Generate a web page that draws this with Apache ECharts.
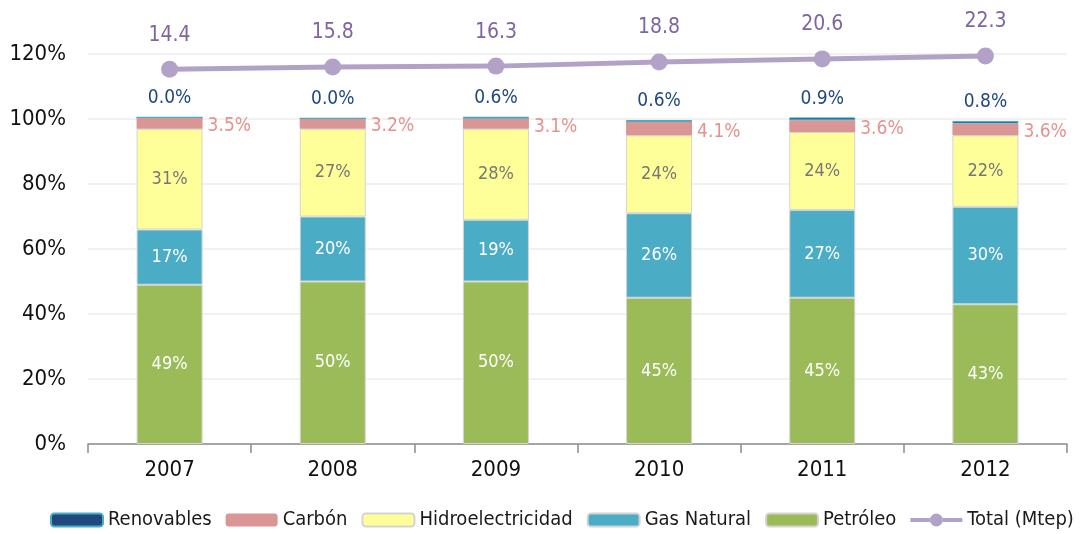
<!DOCTYPE html>
<html>
<head>
<meta charset="utf-8">
<script src="https://cdn.jsdelivr.net/npm/echarts@6/dist/echarts.min.js"></script>
<style>
  html, body { margin: 0; padding: 0; background: #fff; }
  #chart { width: 1082px; height: 534px; }
</style>
</head>
<body>
<div id="chart"></div>
<script>
// Energy mix by source (% of total) and total consumption (Mtep)
const years = ['2007', '2008', '2009', '2010', '2011', '2012'];
const petroleo = [49, 50, 50, 45, 45, 43];
const gasNatural = [17, 20, 19, 26, 27, 30];
const hidro = [31, 27, 28, 24, 24, 22];
const carbon = [3.5, 3.2, 3.1, 4.1, 3.6, 3.6];
const renovables = [0.0, 0.0, 0.6, 0.6, 0.9, 0.8];
const totalMtep = [14.4, 15.8, 16.3, 18.8, 20.6, 22.3];
const yTicks = [0, 20, 40, 60, 80, 100, 120];

const FONT = '"DejaVu Sans Condensed", "Liberation Sans Narrow", "Arial Narrow", sans-serif';

const chart = echarts.init(document.getElementById('chart'));

const barBorder = { borderColor: '#d4d4d4', borderWidth: 1 };
const barWidth = 66;

// thick line with a dot, used as the legend marker of the total series
const LINE_ICON = 'path://M0,4.5H19.8V8.5H0Z M32.2,4.5H52V8.5H32.2Z M19.5,6.5A6.5,6.5,0,1,0,32.5,6.5A6.5,6.5,0,1,0,19.5,6.5Z';

function insideLabel(color, decimals) {
  return {
    show: true,
    position: 'inside',
    color: color,
    fontFamily: FONT,
    fontSize: 18,
    formatter: p => p.value.toFixed(decimals) + '%'
  };
}

chart.setOption({
  animation: false,
  textStyle: { fontFamily: FONT },
  grid: { left: 88, right: 15, top: 54, bottom: 90, containLabel: false },
  legend: {
    bottom: 4,
    left: 50,
    padding: 0,
    itemWidth: 52,
    itemHeight: 13,
    itemGap: 14,
    textStyle: { fontFamily: FONT, fontSize: 20, color: '#1a1a1a' },
    data: [
      'Renovables', 'Carbón', 'Hidroelectricidad', 'Gas Natural', 'Petróleo',
      { name: 'Total (Mtep)', icon: LINE_ICON, itemStyle: { color: '#b3a2c7' } }
    ]
  },
  xAxis: {
    type: 'category',
    data: years,
    boundaryGap: true,
    axisLine: { lineStyle: { color: '#8c8c8c', width: 1.5 } },
    axisTick: { show: true, length: 9, lineStyle: { color: '#8c8c8c', width: 1.5 } },
    axisLabel: { color: '#111', fontFamily: FONT, fontSize: 22, margin: 15 }
  },
  yAxis: [
    {
      type: 'value',
      min: yTicks[0],
      max: yTicks[yTicks.length - 1],
      interval: 20,
      axisLine: { show: false },
      axisTick: { show: false },
      splitLine: { lineStyle: { color: '#ececec', width: 1.5 } },
      axisLabel: { color: '#111', fontFamily: FONT, fontSize: 22, margin: 22, formatter: '{value}%' }
    },
    {
      type: 'value',
      min: -208.1,
      max: 23.5,
      show: false,
      splitLine: { show: false }
    }
  ],
  series: [
    {
      name: 'Petróleo', type: 'bar', stack: 'mix', barWidth: barWidth,
      data: petroleo,
      itemStyle: Object.assign({ color: '#9bbb59' }, barBorder),
      label: insideLabel('#ffffff', 0)
    },
    {
      name: 'Gas Natural', type: 'bar', stack: 'mix', barWidth: barWidth,
      data: gasNatural,
      itemStyle: Object.assign({ color: '#4bacc6' }, barBorder),
      label: insideLabel('#ffffff', 0)
    },
    {
      name: 'Hidroelectricidad', type: 'bar', stack: 'mix', barWidth: barWidth,
      data: hidro,
      itemStyle: Object.assign({ color: '#ffff99' }, barBorder),
      label: insideLabel('#777777', 0)
    },
    {
      name: 'Carbón', type: 'bar', stack: 'mix', barWidth: barWidth,
      data: carbon,
      itemStyle: { color: '#d99694', borderColor: '#d99694', borderWidth: 0 },
      label: {
        show: true, position: 'right', distance: 5, offset: [0, 3],
        color: '#e6928f', fontFamily: FONT, fontSize: 19,
        formatter: p => p.value.toFixed(1) + '%'
      }
    },
    {
      name: 'Renovables', type: 'bar', stack: 'mix', barWidth: barWidth,
      data: renovables,
      itemStyle: { color: '#1f497d', borderColor: '#4bacc6', borderWidth: 1 },
      label: {
        show: true, position: 'top', distance: 9,
        color: '#1f497d', fontFamily: FONT, fontSize: 19,
        formatter: p => p.value.toFixed(1) + '%'
      }
    },
    {
      name: 'Total (Mtep)', type: 'line', yAxisIndex: 1,
      data: totalMtep,
      symbol: 'circle', symbolSize: 17,
      lineStyle: { color: '#b3a2c7', width: 5 },
      itemStyle: { color: '#b3a2c7' },
      label: {
        show: true, position: 'top', distance: 15,
        color: '#8064a2', fontFamily: FONT, fontSize: 21,
        formatter: p => p.value.toFixed(1)
      },
      z: 5
    }
  ]
});
</script>
</body>
</html>
